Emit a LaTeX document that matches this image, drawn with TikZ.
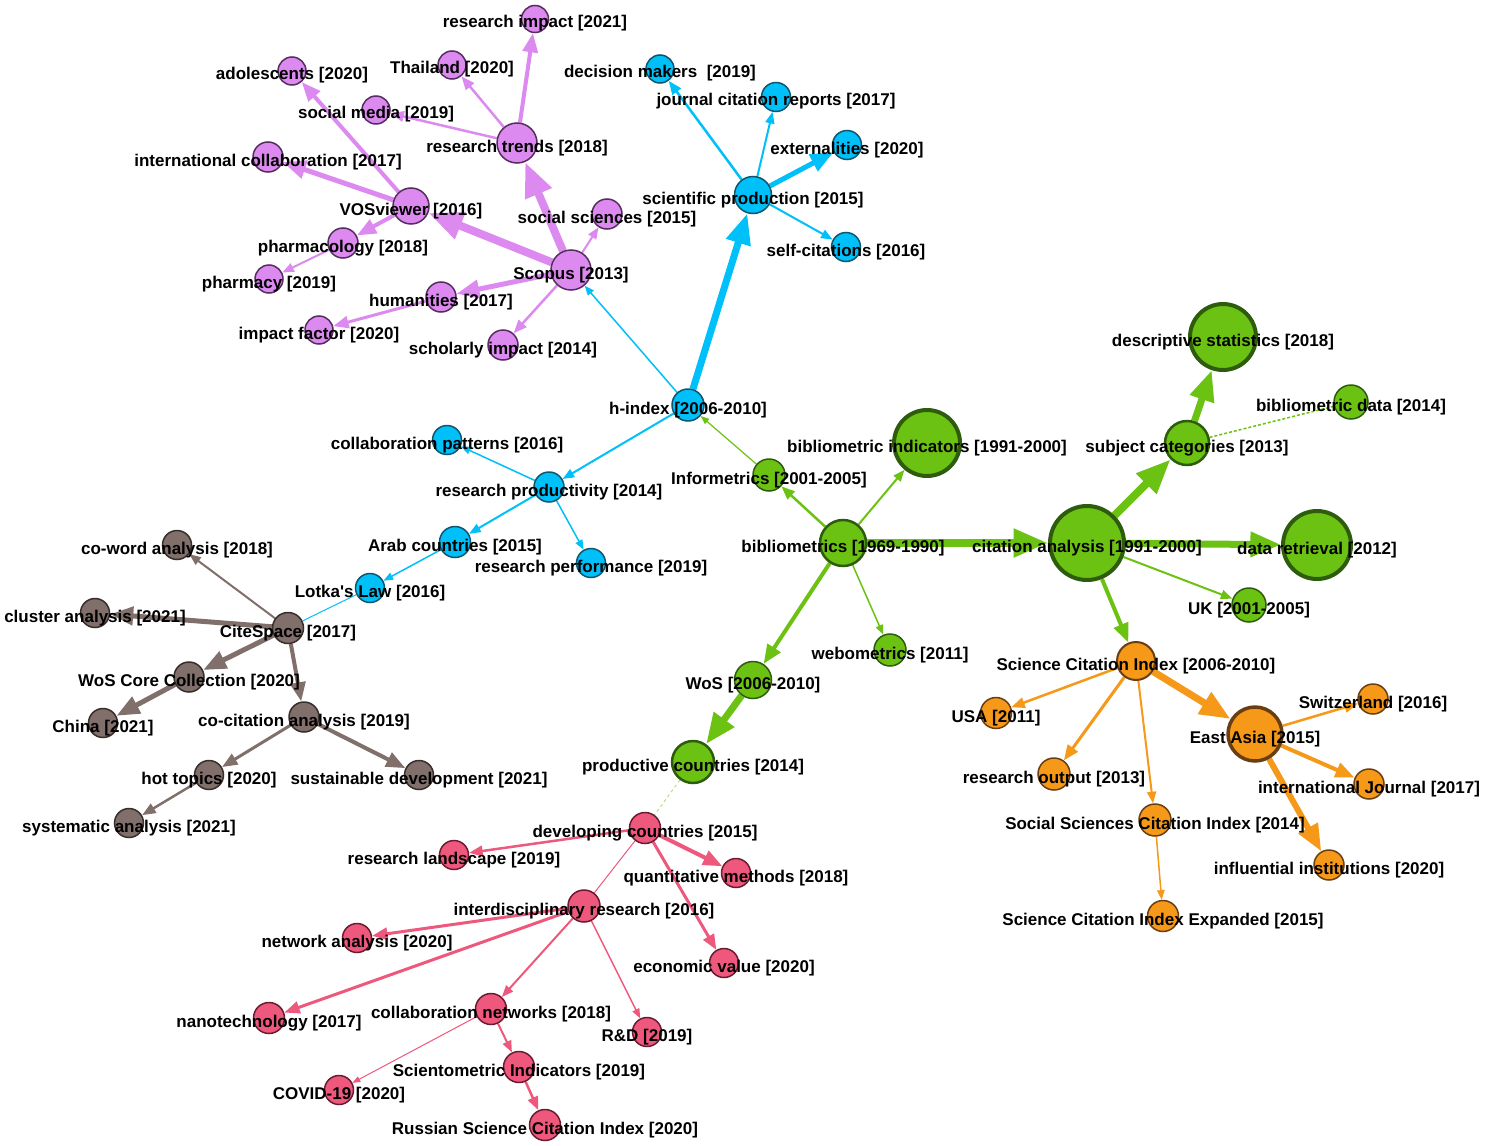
\documentclass[tikz,border=0pt]{standalone}
\usepackage{fontspec}
\setmainfont{Liberation Sans}
\usetikzlibrary{arrows.meta}
\pgfdeclarelayer{bg}\pgfdeclarelayer{fg}\pgfsetlayers{bg,main,fg}
\definecolor{pF}{RGB}{220,138,240}\definecolor{pD}{RGB}{85,45,95}
\definecolor{bF}{RGB}{0,192,250}\definecolor{bD}{RGB}{15,85,110}
\definecolor{gF}{RGB}{108,194,18}\definecolor{gD}{RGB}{45,92,12}
\definecolor{oF}{RGB}{246,152,24}\definecolor{oD}{RGB}{105,62,18}
\definecolor{rF}{RGB}{238,88,125}\definecolor{rD}{RGB}{105,28,48}
\definecolor{kF}{RGB}{128,111,106}\definecolor{kD}{RGB}{55,45,42}
\newcommand\sq{{\XeTeXglyph\XeTeXcharglyph"0027\relax}}
\tikzset{
 nd/.style={circle,inner sep=0pt,line width=1.5pt},
 pn/.style={nd,fill=pF,draw=pD},
 bn/.style={nd,fill=bF,draw=bD},
 gn/.style={nd,fill=gF,draw=gD},
 gnm/.style={gn,line width=2.5pt},
 gnb/.style={gn,line width=4pt},
 on/.style={nd,fill=oF,draw=oD},
 onm/.style={on,line width=2pt},
 onb/.style={on,line width=3.5pt},
 rn/.style={nd,fill=rF,draw=rD},
 kn/.style={nd,fill=kF,draw=kD},
 lbl/.style={anchor=base,inner sep=0pt,text=black,font=\fontsize{17}{20}\selectfont\bfseries},
 arr/.style={-{Triangle[length=4pt 3.8,width=3pt 3]}},
 pe/.style={draw=pF,arr},
 be/.style={draw=bF,arr},
 ge/.style={draw=gF,arr},
 oe/.style={draw=oF,arr},
 re/.style={draw=rF,arr},
 ke/.style={draw=kF,arr},
}
\newcommand\kw[6]{\node[#5,minimum size=#4pt] (#1) at (#2,#3) {};
 \begin{pgfonlayer}{fg}\node[lbl] (#1-t) at ([yshift=-9pt]#1.center) {#6};\end{pgfonlayer}}
\newcommand\ed[4]{\begin{pgfonlayer}{bg}\draw[#3,line width=#4pt] (#1) -- (#2);\end{pgfonlayer}}
\begin{document}
\begin{tikzpicture}[x=1pt,y=-1pt]
\begin{pgfonlayer}{bg}\fill[white] (0,0) rectangle (1487,1145);\end{pgfonlayer}
\useasboundingbox (0,0) rectangle (1487,1145);
% purple
\kw{ri}{535}{19}{27}{pn}{research impact [2021]}
\kw{th}{452}{65}{28}{pn}{Thailand [2020]}
\kw{ad}{292}{71}{28}{pn}{adolescents [2020]}
\kw{sm}{376}{110}{28}{pn}{social media [2019]}
\kw{rt}{517}{143}{40}{pn}{research trends [2018]}
\kw{ic}{268}{157}{30}{pn}{international collaboration [2017]}
\kw{vo}{411}{206}{36}{pn}{VOSviewer [2016]}
\kw{ss}{607}{214}{30}{pn}{social sciences [2015]}
\kw{pg}{343}{243}{30}{pn}{pharmacology [2018]}
\kw{sc}{571}{270}{40}{pn}{Scopus [2013]}
\kw{ph}{269}{279}{28}{pn}{pharmacy [2019]}
\kw{hu}{441}{297}{30}{pn}{humanities [2017]}
\kw{imf}{319}{330}{28}{pn}{impact factor [2020]}
\kw{si}{503}{345}{30}{pn}{scholarly impact [2014]}
% blue
\kw{dm}{660}{69}{28}{bn}{decision makers~ [2019]}
\kw{jc}{776}{97}{29}{bn}{journal citation reports [2017]}
\kw{ex}{847}{145}{29}{bn}{externalities [2020]}
\kw{sp}{753}{195}{37}{bn}{scientific production [2015]}
\kw{sf}{846}{247}{29}{bn}{self-citations [2016]}
\kw{hi}{688}{405}{32}{bn}{h-index [2006-2010]}
\kw{cp}{447}{440}{29}{bn}{collaboration patterns [2016]}
\kw{rp}{549}{487}{30}{bn}{research productivity [2014]}
\kw{ac}{455}{542}{31}{bn}{Arab countries [2015]}
\kw{pf}{591}{563}{29}{bn}{research performance [2019]}
\kw{lo}{370}{588}{29}{bn}{Lotka\sq s Law [2016]}
% green
\kw{ds}{1223}{337}{66}{gnb}{descriptive statistics [2018]}
\kw{bd}{1351}{402}{34}{gn}{bibliometric data [2014]}
\kw{bi}{927}{443}{66}{gnb}{bibliometric indicators [1991-2000]}
\kw{sj}{1187}{443}{44}{gnm}{subject categories [2013]}
\kw{in}{769}{475}{32}{gn}{Informetrics [2001-2005]}
\kw{bm}{843}{543}{46}{gnm}{bibliometrics [1969-1990]}
\kw{ca}{1087}{543}{74}{gnb}{citation analysis [1991-2000]}
\kw{dr}{1317}{545}{68}{gnb}{data retrieval [2012]}
\kw{uk}{1249}{605}{34}{gn}{UK [2001-2005]}
\kw{we}{890}{650}{32}{gn}{webometrics [2011]}
\kw{wo}{753}{680}{37}{gn}{WoS [2006-2010]}
\kw{pc}{693}{762}{42}{gnm}{productive countries [2014]}
% orange
\kw{sci}{1136}{661}{38}{onm}{Science Citation Index [2006-2010]}
\kw{usa}{996}{713}{31}{on}{USA [2011]}
\kw{sw}{1373}{699}{30}{on}{Switzerland [2016]}
\kw{ea}{1255}{734}{54}{onb}{East Asia [2015]}
\kw{ro}{1054}{774}{32}{on}{research output [2013]}
\kw{ij}{1369}{784}{30}{on}{international Journal [2017]}
\kw{ssci}{1155}{820}{32}{on}{Social Sciences Citation Index [2014]}
\kw{ii}{1329}{865}{30}{on}{influential institutions [2020]}
\kw{scie}{1163}{916}{31}{on}{Science Citation Index Expanded [2015]}
% brown
\kw{cw}{177}{545}{29}{kn}{co-word analysis [2018]}
\kw{cl}{95}{613}{29}{kn}{cluster analysis [2021]}
\kw{cs}{288}{628}{31}{kn}{CiteSpace [2017]}
\kw{wc}{189}{677}{30}{kn}{WoS Core Collection [2020]}
\kw{ch}{103}{723}{29}{kn}{China [2021]}
\kw{cc}{304}{717}{30}{kn}{co-citation analysis [2019]}
\kw{ht}{209}{775}{29}{kn}{hot topics [2020]}
\kw{sd}{419}{775}{29}{kn}{sustainable development [2021]}
\kw{sy}{129}{823}{29}{kn}{systematic analysis [2021]}
% pink
\kw{dc}{645}{828}{31}{rn}{developing countries [2015]}
\kw{rl}{454}{855}{29}{rn}{research landscape [2019]}
\kw{qm}{736}{873}{29}{rn}{quantitative methods [2018]}
\kw{ir}{584}{906}{32}{rn}{interdisciplinary research [2016]}
\kw{na}{357}{938}{29}{rn}{network analysis [2020]}
\kw{ev}{724}{963}{29}{rn}{economic value [2020]}
\kw{nt}{269}{1018}{31}{rn}{nanotechnology [2017]}
\kw{cn}{491}{1009}{31}{rn}{collaboration networks [2018]}
\kw{rd}{647}{1032}{29}{rn}{R\&D [2019]}
\kw{sn}{519}{1067}{31}{rn}{Scientometric Indicators [2019]}
\kw{cv}{339}{1090}{29}{rn}{COVID-19 [2020]}
\kw{rs}{545}{1125}{31}{rn}{Russian Science Citation Index [2020]}
% purple edges
\ed{sc}{vo}{pe}{8}
\ed{sc}{rt}{pe}{8}
\ed{sc}{ss}{pe}{2}
\ed{sc}{hu}{pe}{5}
\ed{sc}{si}{pe}{2.5}
\ed{rt}{ri}{pe}{4}
\ed{rt}{th}{pe}{2.5}
\ed{rt}{sm}{pe}{2.5}
\ed{vo}{ad}{pe}{4}
\ed{vo}{ic}{pe}{5}
\ed{vo}{pg}{pe}{4}
\ed{pg}{ph}{pe}{2}
\ed{hu}{imf}{pe}{3}
% blue edges
\ed{hi}{sp}{be}{7}
\ed{hi}{sc}{be}{1.5}
\ed{hi}{rp}{be}{2}
\ed{sp}{dm}{be}{2.5}
\ed{sp}{jc}{be}{2}
\ed{sp}{ex}{be}{5}
\ed{sp}{sf}{be}{2}
\ed{rp}{cp}{be}{1.5}
\ed{rp}{ac}{be}{2}
\ed{rp}{pf}{be}{1.5}
\ed{ac}{lo}{be}{1.5}
\ed{lo}{cs}{draw=bF}{1}
% green edges
\ed{bm}{ca}{ge}{8}
\ed{bm}{in}{ge}{2.5}
\ed{bm}{bi}{ge}{2}
\ed{bm}{we}{ge}{1.5}
\ed{bm}{wo}{ge}{4}
\ed{wo}{pc}{ge}{7}
\ed{in}{hi}{ge}{1.2}
\ed{ca}{sj}{ge}{8}
\ed{sj}{ds}{ge}{7}
\ed{sj}{bd}{draw=gF,densely dashed}{1.5}
\ed{ca}{dr}{ge}{7}
\ed{ca}{uk}{ge}{2}
\ed{ca}{sci}{ge}{4}
\ed{pc}{dc}{draw=gF!60,dashed}{0.8}
% orange edges
\ed{sci}{usa}{oe}{2.5}
\ed{sci}{ro}{oe}{3}
\ed{sci}{ssci}{oe}{2}
\ed{sci}{ea}{oe}{7}
\ed{ea}{sw}{oe}{2.5}
\ed{ea}{ij}{oe}{4}
\ed{ea}{ii}{oe}{6}
\ed{ssci}{scie}{oe}{1.5}
% brown edges
\ed{cs}{cw}{ke}{2}
\ed{cs}{cl}{ke}{5}
\ed{cs}{wc}{ke}{5}
\ed{wc}{ch}{ke}{5}
\ed{cs}{cc}{ke}{4}
\ed{cc}{ht}{ke}{3}
\ed{cc}{sd}{ke}{4}
\ed{ht}{sy}{ke}{2.5}
% pink edges
\ed{dc}{rl}{re}{2.5}
\ed{dc}{qm}{re}{4}
\ed{dc}{ir}{draw=rF}{1}
\ed{dc}{ev}{re}{3}
\ed{ir}{na}{re}{3}
\ed{ir}{nt}{re}{3}
\ed{ir}{cn}{re}{2}
\ed{ir}{rd}{re}{1.5}
\ed{cn}{sn}{re}{2}
\ed{cn}{cv}{re}{1}
\ed{sn}{rs}{re}{2.5}
\end{tikzpicture}
\end{document}
